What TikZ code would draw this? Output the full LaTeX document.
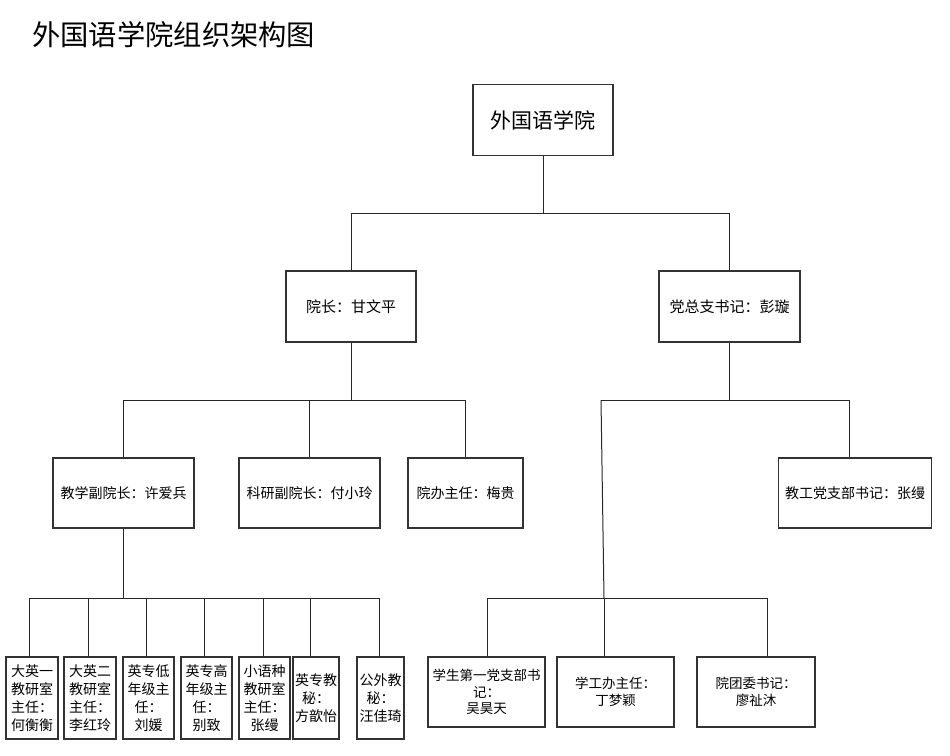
\documentclass[tikz,border=0pt]{standalone}
\usepackage{fontspec}
\setmainfont{Noto Sans CJK SC}
\usetikzlibrary{positioning}
\tikzset{
  kuang/.style={draw=black!80,line width=1.3pt,fill=white,inner sep=0pt,align=center,minimum height=70pt},
  zhong/.style={kuang,font=\fontsize{14}{18}\selectfont},
  xiao/.style={kuang,minimum height=82pt,font=\fontsize{14}{18}\selectfont},
  you/.style={kuang,minimum width=117pt,font=\fontsize{13.5}{16.5}\selectfont},
  xian/.style={draw=black!85,line width=1pt},
}
\begin{document}
\begin{tikzpicture}[x=1pt,y=-1pt]
  \useasboundingbox (0,0) rectangle (950,755);
  \node[anchor=west,inner sep=0pt,font=\fontsize{28.3}{30}\selectfont] (biaoti) at (32,35) {外国语学院组织架构图};
  % 第一层
  \node[kuang,minimum width=140pt,minimum height=71pt,font=\fontsize{21}{24}\selectfont] (xy) at (543,120) {外国语学院};
  % 第二层
  \node[zhong,minimum width=130pt,minimum height=71pt,font=\fontsize{15}{18}\selectfont] (yz) at (351,306.5) {院长：甘文平};
  \node[zhong,minimum width=141pt,minimum height=71pt,font=\fontsize{15}{18}\selectfont] (dz) at (729.5,306.5) {党总支书记：彭璇};
  % 第三层
  \node[zhong,minimum width=141pt] (jx) at (123.5,493) {教学副院长：许爱兵};
  \node[zhong,minimum width=141pt] (ky) at (309.5,493) {科研副院长：付小玲};
  \node[zhong,minimum width=115pt] (yb) at (465.5,493) {院办主任：梅贵};
  \node[zhong,minimum width=153pt] (jg) at (855,493) {教工党支部书记：张缦};
  % 第四层（左）
  \node[xiao,minimum width=52pt] (d1) at (32,698) {大英一\\教研室\\主任：\\何衡衡};
  \node[xiao,minimum width=52pt] (d2) at (90,698) {大英二\\教研室\\主任：\\李红玲};
  \node[xiao,minimum width=51pt] (d3) at (148.5,698) {英专低\\年级主\\任：\\刘媛};
  \node[xiao,minimum width=51pt] (d4) at (206.5,698) {英专高\\年级主\\任：\\别致};
  \node[xiao,minimum width=51pt] (d5) at (264.5,698) {小语种\\教研室\\主任：\\张缦};
  \node[xiao,minimum width=46pt] (d6) at (316,698) {英专教\\秘：\\方歆怡};
  \node[xiao,minimum width=47pt] (d7) at (380.5,698) {公外教\\秘：\\汪佳琦};
  % 第四层（右）
  \node[you] (x1) at (486.5,692) {学生第一党支部书\\记：\\吴昊天};
  \node[you] (x2) at (615.5,692) {学工办主任：\\丁梦颖};
  \node[you,minimum width=118pt] (x3) at (756,692) {院团委书记：\\廖祉沐};

  % 连线
  \coordinate (p0) at (543,213);
  \draw[xian] (xy.south) -- (p0);
  \draw[xian] (yz.north) -- (yz.north |- p0) -- (dz.north |- p0) -- (dz.north);

  \coordinate (p1) at (351,400);
  \draw[xian] (yz.south) -- (p1);
  \draw[xian] (jx.north) -- (jx.north |- p1) -- (yb.north |- p1) -- (yb.north);
  \draw[xian] (ky.north |- p1) -- (ky.north);

  \coordinate (p2) at (729.5,400);
  \coordinate (q0) at (601,400);
  \coordinate (q1) at (849,400);
  \draw[xian] (dz.south) -- (p2);
  \draw[xian] (q0) -- (q1) -- (q1 |- jg.north);

  \coordinate (p4) at (123.5,598);
  \draw[xian] (jx.south) -- (p4);
  \foreach \n/\x in {d1/29,d2/88,d3/146,d4/204,d5/263,d6/310,d7/379}{
    \coordinate (s\n) at (\x,598);
    \draw[xian] (s\n) -- (s\n |- \n.north);
  }
  \draw[xian] (sd1) -- (sd7);

  \foreach \n/\x in {x1/487,x2/604,x3/767}{
    \coordinate (s\n) at (\x,598);
    \draw[xian] (s\n) -- (s\n |- \n.north);
  }
  \draw[xian] (sx1) -- (sx3);
  \draw[xian] (q0) -- (sx2);
\end{tikzpicture}
\end{document}
